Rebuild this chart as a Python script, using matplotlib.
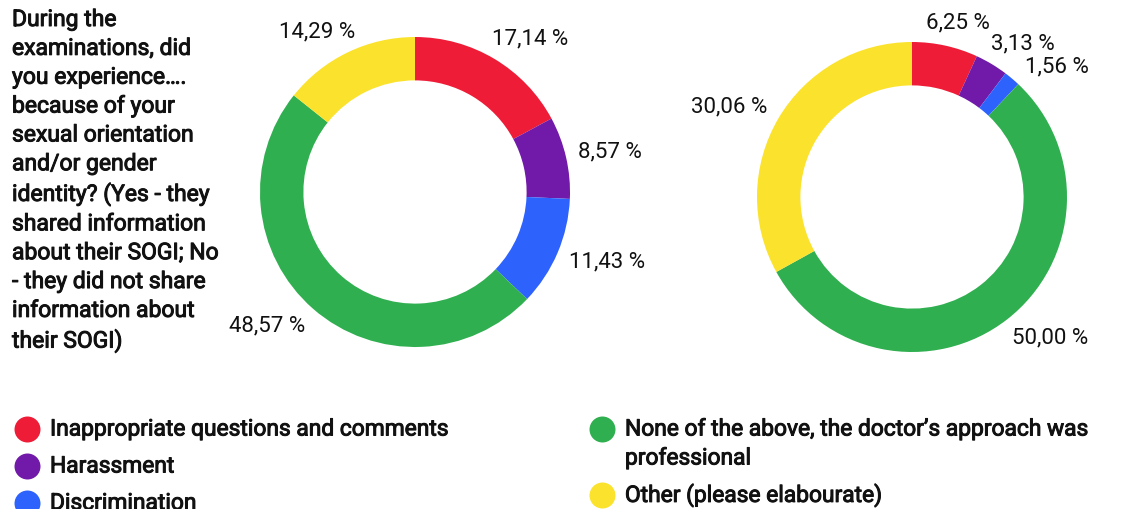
import numpy as np
import matplotlib
matplotlib.use("Agg")
import matplotlib.pyplot as plt
import matplotlib.patheffects as pe

plt.rcParams["font.family"] = ["Roboto", "DejaVu Sans"]

categories = [
    "Inappropriate questions and comments",
    "Harassment",
    "Discrimination",
    "None of the above, the doctor\u2019s approach was\nprofessional",
    "Other (please elabourate)",
]
colors = ["#ee1c37", "#7119a8", "#2d62fc", "#2faf4f", "#fbe22d"]

shared_sogi = [17.14, 8.57, 11.43, 48.57, 14.29]
not_shared_sogi = [6.25, 3.13, 1.56, 50.00, 30.06]

question = ("During the\nexaminations, did\nyou experience\u2026.\nbecause of your\n"
            "sexual orientation\nand/or gender\nidentity? (Yes - they\nshared information\n"
            "about their SOGI; No\n- they did not share\ninformation about\ntheir SOGI)")

W, H = 1130, 509
fig = plt.figure(figsize=(W / 100, H / 100), dpi=100)
renderer = fig.canvas.get_renderer()

R_PX = 155  # outer radius of each ring in pixels
HALF = 240
TXT = "#111111"
bold = [pe.withStroke(linewidth=0.7, foreground=TXT)]


def donut(cx, cy, values):
    ax = fig.add_axes([(cx - HALF) / W, (H - cy - HALF) / H, 2 * HALF / W, 2 * HALF / H])
    wedges, _ = ax.pie(values, colors=colors, startangle=90, counterclock=False,
                       radius=1.0, wedgeprops=dict(width=0.28, linewidth=0))
    lim = HALF / R_PX
    ax.set_xlim(-lim, lim)
    ax.set_ylim(-lim, lim)
    ax.set_aspect("equal")
    ax.axis("off")
    prev = None
    for w, v in zip(wedges, values):
        mid = np.deg2rad((w.theta1 + w.theta2) / 2)
        c, s = np.cos(mid), np.sin(mid)
        ann = ax.annotate(f"{v:.2f} %".replace(".", ","), xy=(1.08 * c, 1.08 * s),
                          xytext=(0, 0), textcoords="offset pixels",
                          ha="center", va="center", fontsize=16, color=TXT,
                          annotation_clip=False)
        # push the label box outward so it sits just outside the ring
        bb = ann.get_window_extent(renderer)
        ox, oy = bb.width / 2 * np.clip(c * 1.5, -1, 1), bb.height / 2 * s
        ann.xyann = (ox, oy)
        # nudge down if it collides with the previous label
        if prev is not None:
            bb, pb = ann.get_window_extent(renderer), prev.get_window_extent(renderer)
            if bb.overlaps(pb):
                ann.xyann = (ox + 6, oy - (bb.y1 - pb.y0) - 2)
        prev = ann
    return ax


donut(415, 192, shared_sogi)
donut(912, 197, not_shared_sogi)

fig.text(12 / W, 1 - 8 / H, question, ha="left", va="top", fontsize=16.5,
         linespacing=1.325, color=TXT, path_effects=bold)

# legend drawn as dots + labels in two columns
leg = fig.add_axes([0, 0, 1, 1])
leg.set_xlim(0, W)
leg.set_ylim(H, 0)
leg.axis("off")
rows = [(27, 429), (27, 466), (27, 503), (602, 429), (602, 495)]
for (x, y), c, lab in zip(rows, colors, categories):
    leg.scatter([x], [y], s=350, color=c, linewidths=0, clip_on=False)
    for i, line in enumerate(lab.split("\n")):
        leg.text(x + 23, y + i * 29, line, ha="left", va="center",
                 fontsize=16.4, color=TXT, path_effects=bold)

fig.savefig("out.png", dpi=100)
